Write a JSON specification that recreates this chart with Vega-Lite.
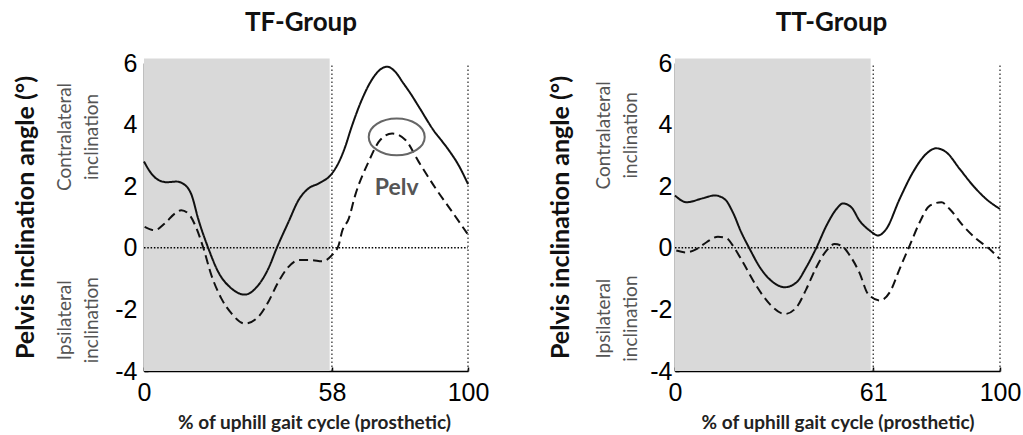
{
  "$schema": "https://vega.github.io/schema/vega-lite/v6.json",
  "padding": {"left": 13, "top": 10, "right": 2, "bottom": 2},
  "background": "white",
  "spacing": 59,
  "datasets": {
    "curves": [
      {"g":"TF","s":"1","p":0,"a":2.8},{"g":"TF","s":"1","p":2,"a":2.45},{"g":"TF","s":"1","p":4.5,"a":2.2},{"g":"TF","s":"1","p":7,"a":2.13},{"g":"TF","s":"1","p":10,"a":2.15},{"g":"TF","s":"1","p":12.5,"a":2.05},{"g":"TF","s":"1","p":14.7,"a":1.71},{"g":"TF","s":"1","p":16.7,"a":0.95},{"g":"TF","s":"1","p":19.8,"a":0},{"g":"TF","s":"1","p":22.9,"a":-0.78},{"g":"TF","s":"1","p":27,"a":-1.32},{"g":"TF","s":"1","p":31.1,"a":-1.52},{"g":"TF","s":"1","p":35.3,"a":-1.21},{"g":"TF","s":"1","p":38.4,"a":-0.67},{"g":"TF","s":"1","p":41,"a":0},{"g":"TF","s":"1","p":44.6,"a":0.84},{"g":"TF","s":"1","p":47.7,"a":1.55},{"g":"TF","s":"1","p":50.8,"a":1.93},{"g":"TF","s":"1","p":53.9,"a":2.09},{"g":"TF","s":"1","p":58,"a":2.41},{"g":"TF","s":"1","p":60,"a":2.75},{"g":"TF","s":"1","p":62,"a":3.25},{"g":"TF","s":"1","p":64,"a":3.9},{"g":"TF","s":"1","p":67,"a":4.75},{"g":"TF","s":"1","p":70,"a":5.4},{"g":"TF","s":"1","p":72.5,"a":5.75},{"g":"TF","s":"1","p":75,"a":5.88},{"g":"TF","s":"1","p":77.5,"a":5.72},{"g":"TF","s":"1","p":80,"a":5.35},{"g":"TF","s":"1","p":82,"a":5.05},{"g":"TF","s":"1","p":85,"a":4.55},{"g":"TF","s":"1","p":89,"a":3.87},{"g":"TF","s":"1","p":94,"a":3.18},{"g":"TF","s":"1","p":97,"a":2.7},{"g":"TF","s":"1","p":100,"a":2.07},
      {"g":"TF","s":"2","p":0.2,"a":0.68},{"g":"TF","s":"2","p":3.3,"a":0.57},{"g":"TF","s":"2","p":6.4,"a":0.79},{"g":"TF","s":"2","p":9.5,"a":1.11},{"g":"TF","s":"2","p":11.5,"a":1.22},{"g":"TF","s":"2","p":14.1,"a":1.06},{"g":"TF","s":"2","p":16.2,"a":0.63},{"g":"TF","s":"2","p":18.3,"a":0},{"g":"TF","s":"2","p":20.8,"a":-0.89},{"g":"TF","s":"2","p":23.9,"a":-1.65},{"g":"TF","s":"2","p":27,"a":-2.13},{"g":"TF","s":"2","p":31.1,"a":-2.46},{"g":"TF","s":"2","p":35.3,"a":-2.24},{"g":"TF","s":"2","p":38.4,"a":-1.75},{"g":"TF","s":"2","p":41.5,"a":-1.1},{"g":"TF","s":"2","p":44.6,"a":-0.62},{"g":"TF","s":"2","p":47.7,"a":-0.4},{"g":"TF","s":"2","p":51.8,"a":-0.4},{"g":"TF","s":"2","p":54.9,"a":-0.44},{"g":"TF","s":"2","p":58,"a":-0.24},{"g":"TF","s":"2","p":60.1,"a":0.09},{"g":"TF","s":"2","p":61.1,"a":0.52},{"g":"TF","s":"2","p":63.2,"a":0.95},{"g":"TF","s":"2","p":65.2,"a":1.71},{"g":"TF","s":"2","p":69.3,"a":2.79},{"g":"TF","s":"2","p":72.9,"a":3.5},{"g":"TF","s":"2","p":76.6,"a":3.71},{"g":"TF","s":"2","p":80.7,"a":3.5},{"g":"TF","s":"2","p":84.8,"a":2.79},{"g":"TF","s":"2","p":90,"a":1.93},{"g":"TF","s":"2","p":95.1,"a":1.17},{"g":"TF","s":"2","p":99.8,"a":0.46},
      {"g":"TT","s":"1","p":0,"a":1.7},{"g":"TT","s":"1","p":3.5,"a":1.48},{"g":"TT","s":"1","p":8.6,"a":1.61},{"g":"TT","s":"1","p":12.2,"a":1.7},{"g":"TT","s":"1","p":15.3,"a":1.58},{"g":"TT","s":"1","p":17.8,"a":1.15},{"g":"TT","s":"1","p":20.4,"a":0.5},{"g":"TT","s":"1","p":23,"a":-0.04},{"g":"TT","s":"1","p":26.1,"a":-0.63},{"g":"TT","s":"1","p":30.2,"a":-1.12},{"g":"TT","s":"1","p":33.8,"a":-1.28},{"g":"TT","s":"1","p":37.4,"a":-1.12},{"g":"TT","s":"1","p":40.4,"a":-0.63},{"g":"TT","s":"1","p":43.5,"a":0},{"g":"TT","s":"1","p":46.6,"a":0.72},{"g":"TT","s":"1","p":49.7,"a":1.26},{"g":"TT","s":"1","p":51.7,"a":1.44},{"g":"TT","s":"1","p":54.3,"a":1.31},{"g":"TT","s":"1","p":56.8,"a":0.88},{"g":"TT","s":"1","p":59.9,"a":0.56},{"g":"TT","s":"1","p":62.5,"a":0.4},{"g":"TT","s":"1","p":65,"a":0.61},{"g":"TT","s":"1","p":69.1,"a":1.58},{"g":"TT","s":"1","p":73.2,"a":2.45},{"g":"TT","s":"1","p":77.3,"a":3.05},{"g":"TT","s":"1","p":80.4,"a":3.23},{"g":"TT","s":"1","p":83.5,"a":3.1},{"g":"TT","s":"1","p":87.6,"a":2.56},{"g":"TT","s":"1","p":91.7,"a":2.02},{"g":"TT","s":"1","p":95.8,"a":1.58},{"g":"TT","s":"1","p":100,"a":1.26},
      {"g":"TT","s":"2","p":0.4,"a":-0.09},{"g":"TT","s":"2","p":3.5,"a":-0.15},{"g":"TT","s":"2","p":6.6,"a":-0.04},{"g":"TT","s":"2","p":9.7,"a":0.18},{"g":"TT","s":"2","p":13.2,"a":0.36},{"g":"TT","s":"2","p":15.8,"a":0.32},{"g":"TT","s":"2","p":17.8,"a":0.07},{"g":"TT","s":"2","p":20.9,"a":-0.47},{"g":"TT","s":"2","p":25,"a":-1.23},{"g":"TT","s":"2","p":29.1,"a":-1.82},{"g":"TT","s":"2","p":33.8,"a":-2.15},{"g":"TT","s":"2","p":37.4,"a":-1.93},{"g":"TT","s":"2","p":40.4,"a":-1.34},{"g":"TT","s":"2","p":43.5,"a":-0.63},{"g":"TT","s":"2","p":46.6,"a":-0.09},{"g":"TT","s":"2","p":49.1,"a":0.12},{"g":"TT","s":"2","p":51.2,"a":0.07},{"g":"TT","s":"2","p":53.8,"a":-0.25},{"g":"TT","s":"2","p":56.8,"a":-0.82},{"g":"TT","s":"2","p":59.4,"a":-1.5},{"g":"TT","s":"2","p":63,"a":-1.71},{"g":"TT","s":"2","p":66.1,"a":-1.44},{"g":"TT","s":"2","p":69.1,"a":-0.69},{"g":"TT","s":"2","p":72.2,"a":0.07},{"g":"TT","s":"2","p":75.3,"a":0.83},{"g":"TT","s":"2","p":78.4,"a":1.37},{"g":"TT","s":"2","p":82,"a":1.48},{"g":"TT","s":"2","p":84.5,"a":1.26},{"g":"TT","s":"2","p":88.6,"a":0.72},{"g":"TT","s":"2","p":92.7,"a":0.29},{"g":"TT","s":"2","p":96.8,"a":-0.04},{"g":"TT","s":"2","p":99.9,"a":-0.36}
    ],
    "notes": [
      {"g":"TF","p":-24.5,"a":3.6,"t":"Contralateral\ninclination"},
      {"g":"TF","p":-24.5,"a":-2.35,"t":"Ipsilateral\ninclination"},
      {"g":"TT","p":-22,"a":3.65,"t":"Contralateral\ninclination"},
      {"g":"TT","p":-22,"a":-2.3,"t":"Ipsilateral\ninclination"}
    ]
  },
  "hconcat": [
    {
      "width": 324, "height": 308,
      "title": {"text": "TF-Group", "dx": -5},
      "layer": [
        {
          "data": {"values": [{"a": 0, "b": 57.3, "lo": -4, "hi": 6.15}]},
          "mark": {"type": "rect", "fill": "#d9d9d9"},
          "encoding": {
            "x": {"field": "a", "type": "quantitative", "scale": {"domain": [0, 100], "nice": false, "zero": false},
                  "axis": {"values": [0, 58, 100], "title": "% of uphill gait cycle (prosthetic)", "titleX": 170}},
            "x2": {"field": "b"},
            "y": {"field": "lo", "type": "quantitative", "scale": {"domain": [-4, 6], "nice": false, "zero": false},
                  "axis": {"values": [-4, -2, 0, 2, 4, 6], "title": "Pelvis inclination angle (°)", "labelPadding": 11}},
            "y2": {"field": "hi"}
          }
        },
        {
          "data": {"values": [{"a": 0, "b": 100, "v": 0}]},
          "mark": {"type": "rule", "color": "#000", "strokeWidth": 1.5, "strokeDash": [1.5, 1.8]},
          "encoding": {"x": {"field": "a", "type": "quantitative"}, "x2": {"field": "b"}, "y": {"field": "v", "type": "quantitative"}}
        },
        {
          "data": {"values": [{"a": 58, "lo": -4, "hi": 6}, {"a": 100, "lo": -4, "hi": 6}]},
          "mark": {"type": "rule", "color": "#333", "strokeWidth": 1.3, "strokeDash": [1.5, 2.5]},
          "encoding": {"x": {"field": "a", "type": "quantitative"}, "y": {"field": "lo", "type": "quantitative"}, "y2": {"field": "hi"}}
        },
        {
          "data": {"name": "curves"},
          "transform": [{"filter": "datum.g == 'TF'"}],
          "mark": {"type": "line", "color": "#111", "strokeWidth": 2, "interpolate": "monotone"},
          "encoding": {
            "x": {"field": "p", "type": "quantitative"},
            "y": {"field": "a", "type": "quantitative"},
            "strokeDash": {"field": "s", "type": "nominal", "scale": {"domain": ["1", "2"], "range": [[1, 0], [9, 5]]}, "legend": null}
          }
        },
        {
          "data": {"name": "notes"},
          "transform": [{"filter": "datum.g == 'TF'"}],
          "mark": {"type": "text", "angle": 270, "lineBreak": "\n", "font": "Lato", "fontSize": 19, "lineHeight": 27, "color": "#555", "align": "center", "baseline": "middle"},
          "encoding": {"x": {"field": "p", "type": "quantitative"}, "y": {"field": "a", "type": "quantitative"}, "text": {"field": "t"}}
        },
        {
          "data": {"values": [{"p": 78, "a": 3.6}]},
          "mark": {"type": "point", "shape": "M -1 0 A 1 0.655 0 1 0 1 0 A 1 0.655 0 1 0 -1 0 Z", "size": 3136, "filled": false, "stroke": "#666", "strokeWidth": 2, "opacity": 1},
          "encoding": {"x": {"field": "p", "type": "quantitative"}, "y": {"field": "a", "type": "quantitative"}}
        },
        {
          "data": {"values": [{"p": 78, "a": 1.95, "t": "Pelv"}]},
          "mark": {"type": "text", "font": "Lato", "fontSize": 23, "fontWeight": "bold", "color": "#555", "align": "center", "baseline": "middle"},
          "encoding": {"x": {"field": "p", "type": "quantitative"}, "y": {"field": "a", "type": "quantitative"}, "text": {"field": "t"}}
        }
      ]
    },
    {
      "width": 325, "height": 308,
      "title": {"text": "TT-Group", "dx": -6},
      "layer": [
        {
          "data": {"values": [{"a": 0, "b": 60.2, "lo": -4, "hi": 6.15}]},
          "mark": {"type": "rect", "fill": "#d9d9d9"},
          "encoding": {
            "x": {"field": "a", "type": "quantitative", "scale": {"domain": [0, 100], "nice": false, "zero": false},
                  "axis": {"values": [0, 61, 100], "title": "% of uphill gait cycle (prosthetic)"}},
            "x2": {"field": "b"},
            "y": {"field": "lo", "type": "quantitative", "scale": {"domain": [-4, 6], "nice": false, "zero": false},
                  "axis": {"values": [-4, -2, 0, 2, 4, 6], "title": "Pelvis inclination angle (°)", "labelPadding": 7}},
            "y2": {"field": "hi"}
          }
        },
        {
          "data": {"values": [{"a": 0, "b": 100, "v": 0}]},
          "mark": {"type": "rule", "color": "#000", "strokeWidth": 1.5, "strokeDash": [1.5, 1.8]},
          "encoding": {"x": {"field": "a", "type": "quantitative"}, "x2": {"field": "b"}, "y": {"field": "v", "type": "quantitative"}}
        },
        {
          "data": {"values": [{"a": 61, "lo": -4, "hi": 6}, {"a": 100, "lo": -4, "hi": 6}]},
          "mark": {"type": "rule", "color": "#333", "strokeWidth": 1.3, "strokeDash": [1.5, 2.5]},
          "encoding": {"x": {"field": "a", "type": "quantitative"}, "y": {"field": "lo", "type": "quantitative"}, "y2": {"field": "hi"}}
        },
        {
          "data": {"name": "curves"},
          "transform": [{"filter": "datum.g == 'TT'"}],
          "mark": {"type": "line", "color": "#111", "strokeWidth": 2, "interpolate": "monotone"},
          "encoding": {
            "x": {"field": "p", "type": "quantitative"},
            "y": {"field": "a", "type": "quantitative"},
            "strokeDash": {"field": "s", "type": "nominal", "scale": {"domain": ["1", "2"], "range": [[1, 0], [9, 5]]}, "legend": null}
          }
        },
        {
          "data": {"name": "notes"},
          "transform": [{"filter": "datum.g == 'TT'"}],
          "mark": {"type": "text", "angle": 270, "lineBreak": "\n", "font": "Lato", "fontSize": 19, "lineHeight": 27, "color": "#555", "align": "center", "baseline": "middle"},
          "encoding": {"x": {"field": "p", "type": "quantitative"}, "y": {"field": "a", "type": "quantitative"}, "text": {"field": "t"}}
        }
      ]
    }
  ],
  "config": {
    "view": {"stroke": null},
    "title": {"font": "Lato", "fontSize": 26, "fontWeight": "bold", "color": "#111", "anchor": "middle", "frame": "group", "offset": 15},
    "axis": {
      "grid": false, "domainColor": "#000", "domainWidth": 1.5, "tickColor": "#000", "tickWidth": 1.5, "tickSize": -4,
      "labelFont": "Liberation Sans", "labelFontSize": 25, "labelColor": "#000", "labelFlush": false,
      "labelExpr": "replace(datum.label, '\u2212', '-')",
      "titleFont": "Lato", "titleFontWeight": "bold", "titleColor": "#111"
    },
    "axisY": {"titleFontSize": 25, "titlePadding": 76},
    "axisX": {"titleFontSize": 19, "labelPadding": 13, "titlePadding": 8, "titleColor": "#222"}
  }
}
